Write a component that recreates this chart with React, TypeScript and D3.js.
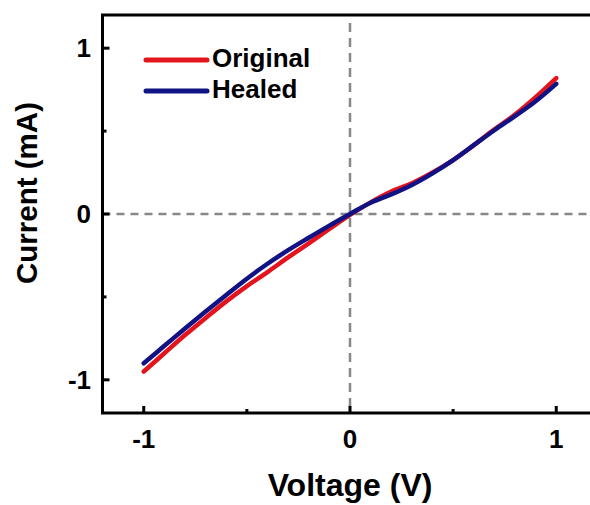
import React from "react";
import * as d3 from "d3";

const voltage = [-1.0, -0.9, -0.8, -0.7, -0.6, -0.5, -0.4, -0.3, -0.2, -0.1, 0.0, 0.1, 0.2, 0.3, 0.4, 0.5, 0.6, 0.7, 0.8, 0.9, 1.0];
const originalCurrent = [-0.95, -0.84, -0.73, -0.627, -0.527, -0.435, -0.35, -0.262, -0.177, -0.09, -0.005, 0.07, 0.135, 0.185, 0.25, 0.325, 0.415, 0.51, 0.6, 0.705, 0.82];
const healedCurrent = [-0.9, -0.795, -0.69, -0.588, -0.488, -0.39, -0.3, -0.218, -0.143, -0.07, 0.0, 0.068, 0.118, 0.175, 0.245, 0.325, 0.415, 0.505, 0.59, 0.68, 0.785];
const majorTicks = [-1, 0, 1];
const minorTicks = [-0.5, 0.5];
const seriesNames = ["Original", "Healed"];
const seriesColors = ["#e3141d", "#111283"];

const W = 590;
const H = 505;
const FONT = "'Liberation Sans', Arial, Helvetica, sans-serif";

export default function App() {
  const x = d3.scaleLinear().domain([-1.2, 1.2]).range([102.5, 597.5]);
  const y = d3.scaleLinear().domain([-1.2, 1.2]).range([413, 15]);
  const line = d3
    .line<number>()
    .x((_, i) => x(voltage[i]))
    .y((d) => y(d))
    .curve(d3.curveCatmullRom.alpha(0.5));

  const series = [originalCurrent, healedCurrent];
  const [x0, x1] = x.range();
  const [yb, yt] = y.range();

  return (
    <svg
      width={W}
      height={H}
      style={{ position: "absolute", left: 0, top: 0, background: "#fff" }}
      fontFamily={FONT}
      fontWeight="bold"
    >
      {/* zero dashed lines */}
      <line x1={x0} x2={x1} y1={y(0)} y2={y(0)} stroke="#888" strokeWidth={2.5} strokeDasharray="8,6" />
      <line x1={x(0)} x2={x(0)} y1={yt + 8} y2={yb} stroke="#888" strokeWidth={2.5} strokeDasharray="9,6" />

      {/* data lines */}
      {series.map((s, k) => (
        <path
          key={k}
          d={line(s) || ""}
          fill="none"
          stroke={seriesColors[k]}
          strokeWidth={4.5}
          strokeLinecap="round"
          strokeLinejoin="round"
        />
      ))}

      {/* frame */}
      <rect x={x0} y={yt} width={x1 - x0} height={yb - yt} fill="none" stroke="#000" strokeWidth={3} />

      {/* x ticks */}
      {majorTicks.map((t) => (
        <g key={"xt" + t}>
          <line x1={x(t)} x2={x(t)} y1={yb} y2={yb - 7} stroke="#000" strokeWidth={3} />
          <text x={x(t)} y={yb + 35} textAnchor="middle" fontSize={26}>
            {t}
          </text>
        </g>
      ))}
      {minorTicks.map((t) => (
        <line key={"xm" + t} x1={x(t)} x2={x(t)} y1={yb} y2={yb - 4} stroke="#000" strokeWidth={3} />
      ))}

      {/* y ticks */}
      {majorTicks.map((t) => (
        <g key={"yt" + t}>
          <line x1={x0} x2={x0 + 7} y1={y(t)} y2={y(t)} stroke="#000" strokeWidth={3} />
          <text x={91} y={y(t) + 9} textAnchor="end" fontSize={26}>
            {t}
          </text>
        </g>
      ))}
      {minorTicks.map((t) => (
        <line key={"ym" + t} x1={x0} x2={x0 + 4} y1={y(t)} y2={y(t)} stroke="#000" strokeWidth={3} />
      ))}

      {/* axis titles */}
      <text x={x(0)} y={496} textAnchor="middle" fontSize={32}>
        Voltage (V)
      </text>
      <text transform={`translate(37,${193}) rotate(-90)`} textAnchor="middle" fontSize={29.5}>
        Current (mA)
      </text>

      {/* legend */}
      {seriesNames.map((n, k) => (
        <g key={n}>
          <line
            x1={146}
            x2={207}
            y1={60 + k * 31}
            y2={60 + k * 31}
            stroke={seriesColors[k]}
            strokeWidth={5}
            strokeLinecap="round"
          />
          <text x={212} y={67 + k * 31} fontSize={26}>
            {n}
          </text>
        </g>
      ))}
    </svg>
  );
}
